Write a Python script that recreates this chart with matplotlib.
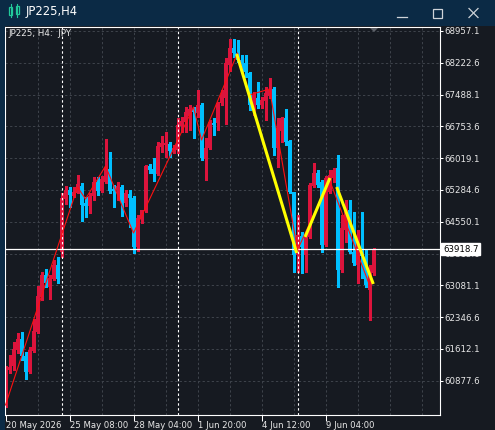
import matplotlib
matplotlib.use("Agg")
import matplotlib.pyplot as plt
from matplotlib.patches import Rectangle, Polygon
from matplotlib.lines import Line2D
import matplotlib.transforms as mtransforms

# ---------------- data ----------------
opens = [60318, 61126, 61218, 61588, 61842, 61449, 61080, 61565, 62004, 62812,
         63321, 63043, 63228, 63552, 63852, 65076, 65284, 65145, 65215, 65376,
         64984, 64914, 65145, 65469, 65261, 65469, 65769, 65307, 65284, 65353,
         64984, 65192, 65099, 63967, 64614, 64799, 65838, 65769, 65654, 66277,
         66335, 66347, 66208, 66208, 66762, 66855, 66993, 67155, 67063, 67248,
         66000, 66254, 66832, 66832, 67294, 67409, 68172, 68564, 68449, 68287,
         68218, 67987, 67248, 67409, 67248, 67340, 67455, 67617, 66254, 66647,
         66947, 66416, 65238, 63783, 64221, 63783, 64198, 65376, 65677, 65469,
         64014, 65238, 65561, 65792, 63436, 64360, 64822, 63852, 63552, 63898,
         63713, 62974, 63367]
highs = [61218, 61473, 61773, 61981, 62004, 61542, 61657, 62304, 63066, 63390,
         63459, 63321, 63667, 63736, 65215, 65376, 65353, 65353, 65630, 65446,
         65122, 65215, 65584, 65584, 65607, 66462, 66162, 65400, 65469, 65400,
         65284, 65284, 65145, 64707, 64822, 65862, 65885, 66023, 66393, 66531,
         66624, 66393, 66324, 66947, 66970, 67201, 67248, 67201, 67594, 67294,
         66485, 66901, 66947, 67317, 67594, 68333, 68772, 68772, 68749, 68402,
         68402, 68010, 67548, 67779, 67432, 67663, 67871, 67663, 66947, 66970,
         67155, 66439, 65238, 64707, 64314, 64314, 65446, 65908, 65746, 65515,
         65607, 65746, 65792, 66092, 64707, 65053, 65053, 64776, 64360, 64776,
         63898, 63552, 63944]
lows = [60271, 61057, 61126, 61519, 61357, 60918, 61057, 61542, 61981, 62743,
        63043, 62766, 63205, 63136, 63736, 64961, 64891, 65122, 65215, 64568,
        64660, 64753, 65053, 65168, 65238, 65446, 65215, 64891, 65053, 64683,
        64914, 64429, 63829, 63875, 64522, 64776, 65677, 65492, 65630, 66162,
        66046, 66046, 66139, 66139, 66624, 66624, 66670, 66485, 66970, 65977,
        65515, 66231, 66555, 66670, 67248, 66809, 68033, 68356, 68241, 67987,
        67894, 67132, 67017, 67178, 67178, 66901, 67409, 66092, 65815, 66393,
        66324, 65215, 63390, 63390, 63367, 63390, 64175, 65353, 65353, 63852,
        63990, 65215, 65469, 63043, 63390, 64083, 63829, 63552, 63136, 63251,
        63043, 62281, 63321]
closes = [61172, 61202, 61611, 61842, 61449, 61080, 61588, 62027, 62835, 63321,
          63136, 63251, 63552, 63228, 65099, 65284, 65168, 65238, 65423, 64937,
          64914, 65145, 65469, 65261, 65538, 65792, 65261, 65261, 65376, 65007,
          65215, 65099, 63967, 64637, 64822, 65838, 65746, 65654, 66300, 66370,
          66370, 66185, 66254, 66786, 66878, 67086, 67155, 67086, 67248, 66023,
          66254, 66855, 66786, 67294, 67479, 68218, 68564, 68449, 68287, 68148,
          68010, 67248, 67479, 67248, 67363, 67525, 67594, 66254, 66716, 66947,
          66393, 65238, 63783, 64245, 63967, 64198, 65400, 65677, 65400, 64014,
          65561, 65630, 65746, 63436, 64406, 64868, 63852, 63598, 64129, 63759,
          63090, 63436, 63918.7]

zigzag_idx = [0, 18, 20, 25, 32, 47, 49, 58, 61, 66, 73, 81, 91]
zigzag_price = [60318, 65353, 65076, 65838, 64291, 67201, 66439, 68449,
                67479, 67617, 63898, 65515, 63090]

trend_idx = [(57.8, 72.8), (74.9, 81.1), (82.8, 91.95)]
trend_price = [(68426, 63829), (64198, 65561), (65353, 63113)]

price_ticks = [68957.1, 68222.6, 67488.1, 66753.6, 66019.1, 65284.6,
               64550.1, 63815.6, 63081.1, 62346.6, 61612.1, 60877.6]
time_tick_idx = [0, 16, 32, 48, 64, 80]
time_tick_labels = ["20 May 2026", "25 May 08:00", "28 May 04:00",
                    "1 Jun 20:00", "4 Jun 12:00", "9 Jun 04:00"]
separator_idx = [14, 43, 73]
current_price = 63918.7
symbol_title = "JP225,H4"
chart_label = "JP225, H4:  JPY"

# ---------------- style ----------------
W, H = 495, 430
BG = "#161a21"
NAVY = "#0b2a45"
GRID = "#3d424a"
BULL = "#dc143c"
BEAR = "#00bfff"
TXT = "#e8e8e8"

fig = plt.figure(figsize=(W / 100, H / 100), dpi=100, facecolor=BG)

# main chart axes, placed at pixel positions
x0, x1, y0, y1 = 5, 440, 27, 415
ax = fig.add_axes([x0 / W, 1 - y1 / H, (x1 - x0) / W, (y1 - y0) / H])
ax.set_facecolor(BG)
ax.set_xlim((x0 - 5.5) / 4, (x1 - 5.5) / 4)
ax.set_ylim(60086.5, 69049.3)

for s in ax.spines.values():
    s.set_color("white")
    s.set_linewidth(0.8)

# grid
for p in price_ticks:
    ax.axhline(p, color=GRID, lw=0.75, ls=(0, (2.2, 2.2)), zorder=0.5)
for i in range(8, 108, 8):
    ax.axvline(i, color=GRID, lw=0.75, ls=(0, (2.2, 2.2)), zorder=0.5)

# candles
for i, (o, h, l, c) in enumerate(zip(opens, highs, lows, closes)):
    col = BULL if c >= o else BEAR
    ax.vlines(i, l, h, color=col, lw=0.75, zorder=2, antialiased=False)
    bottom = min(o, c)
    height = max(abs(c - o), 23)
    ax.add_patch(Rectangle((i - 0.375, bottom), 0.75, height, facecolor=col,
                           edgecolor="none", zorder=2.1, antialiased=False))

# period separators
for i in separator_idx:
    ax.axvline(i, color="white", lw=0.8, ls=(0, (2.2, 2.2)), zorder=2.5)

# current price line
ax.axhline(current_price, color="white", lw=0.9, zorder=2.6)

# zigzag
ax.plot(zigzag_idx, zigzag_price, color="#ff1010", lw=0.8, zorder=3)

# trend lines
for (ia, ib), (pa, pb) in zip(trend_idx, trend_price):
    ax.plot([ia, ib], [pa, pb], color="#ffff00", lw=2.2, zorder=3.5,
            solid_capstyle="butt")

# axes ticks
ax.yaxis.tick_right()
ax.set_yticks(price_ticks)
ax.set_yticklabels(["%.1f" % p for p in price_ticks])
ax.tick_params(axis="y", direction="out", length=2.5, width=0.75,
               colors="white", labelsize=6.2, pad=1, labelcolor=TXT)
ax.set_xticks(time_tick_idx)
ax.set_xticklabels(time_tick_labels)
ax.tick_params(axis="x", direction="out", length=4, width=0.75,
               colors="white", labelsize=6.1, pad=0.5, labelcolor=TXT)
for lab in ax.get_xticklabels():
    lab.set_horizontalalignment("left")

# current price label box
trans = mtransforms.blended_transform_factory(ax.transAxes, ax.transData)
ax.text((443 - x0) / (x1 - x0), current_price, "%.1f" % current_price,
        transform=trans, ha="left", va="center", fontsize=6.2, color="black",
        zorder=10, clip_on=False,
        bbox=dict(boxstyle="square,pad=0.2", fc="white", ec="white"))

# overlay in pixel coordinates for window decorations
ov = fig.add_axes([0, 0, 1, 1])
ov.set_xlim(0, W)
ov.set_ylim(H, 0)
ov.axis("off")
ov.patch.set_alpha(0)

ov.add_patch(Rectangle((0, 0), W, 26, facecolor=NAVY, edgecolor="none"))
ov.add_patch(Rectangle((0, 26), 4.5, H - 26, facecolor=NAVY, edgecolor="none"))

# icon: two candles
ICON = "#22c99a"
ov.plot([10.5, 10.5], [4, 17], color=ICON, lw=0.8)
ov.add_patch(Rectangle((9, 7), 3, 8, facecolor=NAVY, edgecolor=ICON, lw=0.9))
ov.plot([17, 17], [4, 17], color=ICON, lw=0.8)
ov.add_patch(Rectangle((15.5, 6), 3, 8, facecolor=NAVY, edgecolor=ICON, lw=0.9))
ov.text(26, 12, symbol_title, color="white", fontsize=8.3, va="center", ha="left")

BTN = "#cfd3d8"
ov.plot([397, 407], [17, 17], color=BTN, lw=0.9)
ov.add_patch(Rectangle((433, 8.5), 9, 9, facecolor="none", edgecolor=BTN, lw=0.9))
ov.plot([469, 478], [8.5, 17.5], color=BTN, lw=0.9)
ov.plot([469, 478], [17.5, 8.5], color=BTN, lw=0.9)

# chart-shift marker
ov.add_patch(Polygon([(370, 28), (378, 28), (374, 32)], closed=True,
                     facecolor="#5c6068", edgecolor="none"))

# chart caption
ov.text(8.5, 34, chart_label, color=TXT, fontsize=6.3, va="center", ha="left")

fig.savefig("out.png", dpi=100, facecolor=BG)
